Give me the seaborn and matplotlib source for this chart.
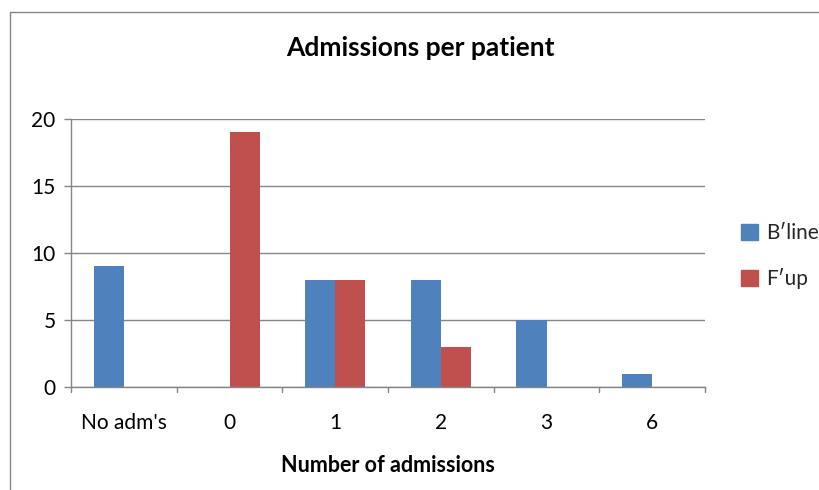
import matplotlib
matplotlib.use("Agg")
import matplotlib.pyplot as plt
import seaborn as sns
import pandas as pd
from matplotlib.patches import Rectangle
from matplotlib.lines import Line2D

categories = ["No adm's", "0", "1", "2", "3", "6"]
bline = [9, 0, 8, 8, 5, 1]
fup = [0, 19, 8, 3, 0, 0]
series_names = ["B\u2032line", "F\u2032up"]
colors = ["#4F81BD", "#C0504D"]
yticks = [0, 5, 10, 15, 20]

df = pd.DataFrame({
    "cat": categories * 2,
    "val": bline + fup,
    "series": [series_names[0]] * len(categories) + [series_names[1]] * len(categories),
})

sns.set_theme(style="white")
plt.rcParams["font.family"] = ["Lato", "DejaVu Sans"]

fig = plt.figure(figsize=(8.19, 4.90), dpi=100)
ax = fig.add_axes([71 / 819, 1 - 387 / 490, 634 / 819, 268 / 490])

sns.barplot(data=df, x="cat", y="val", hue="series", palette=colors,
            width=0.57, gap=0, ax=ax, legend=False, saturation=1,
            linewidth=0, edgecolor="none")

ax.set_ylim(0, 20)
ax.set_xlim(-0.5, len(categories) - 0.5)
ax.set_yticks(yticks)
ax.set_yticklabels([str(t) for t in yticks], fontsize=15, color="black")
ax.set_xticks(range(len(categories)))
ax.set_xticklabels(categories, fontsize=15, color="black")
ax.tick_params(axis="x", length=0, pad=18.5)
ax.tick_params(axis="y", length=5, color="#868686", width=1, left=True, pad=6)

# category-boundary ticks on the x axis
for b in [i - 0.5 for i in range(len(categories) + 1)]:
    ax.plot([b, b], [0, -0.35], color="#868686", lw=1, clip_on=False, zorder=3)

ax.grid(axis="y", color="#868686", lw=1)
ax.set_axisbelow(True)
for side in ["top", "right"]:
    ax.spines[side].set_visible(False)
for side in ["left", "bottom"]:
    ax.spines[side].set_color("#868686")
    ax.spines[side].set_linewidth(1)

ax.set_xlabel("Number of admissions", fontsize=15.5, fontweight="bold", labelpad=16, color="black")
ax.set_ylabel("")

fig.text(420 / 819, 1 - 48 / 490, "Admissions per patient", fontsize=19,
         fontweight="bold", ha="center", va="center", color="black")

handles = [Rectangle((0, 0), 1, 1, color=c) for c in colors]
fig.legend(handles, series_names, loc="center left",
           bbox_to_anchor=(741 / 819, 1 - 256 / 490), frameon=False,
           fontsize=15, handlelength=0.8, handleheight=0.8,
           labelspacing=1.2, handletextpad=0.4, borderpad=0, borderaxespad=0)

# outer chart frame
fig.add_artist(Line2D([10 / 819, 10 / 819], [0, 1 - 12 / 490], color="#868686", lw=1,
                      transform=fig.transFigure))
fig.add_artist(Line2D([10 / 819, 1], [1 - 12 / 490, 1 - 12 / 490], color="#868686", lw=1,
                      transform=fig.transFigure))

fig.savefig("out.png", dpi=100)
